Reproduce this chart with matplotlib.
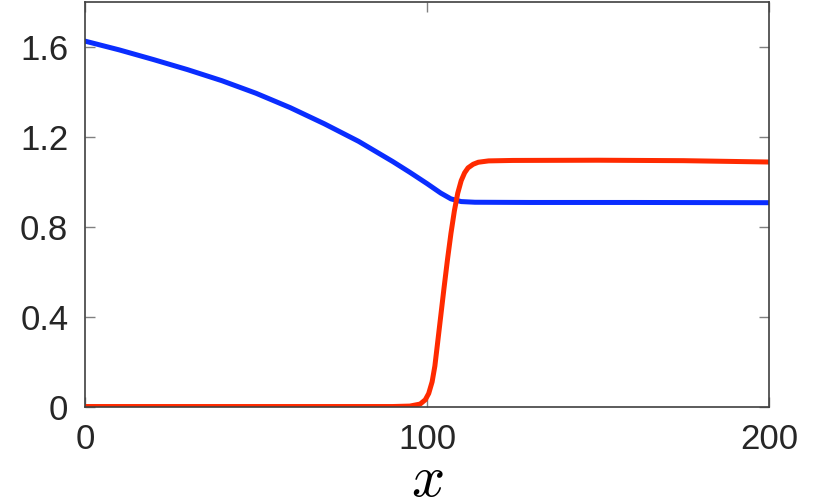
import numpy as np
import matplotlib
matplotlib.use("Agg")
from matplotlib import pyplot as plt

# values
x_blue = [0, 10, 20, 30, 40, 50, 60, 70, 80, 90, 95, 100, 104, 107, 110, 114, 130, 160, 200]
y_blue = [1.626, 1.587, 1.544, 1.499, 1.450, 1.394, 1.330, 1.258, 1.180, 1.090, 1.042, 0.992,
          0.950, 0.924, 0.912, 0.909, 0.908, 0.908, 0.907]

x_red = [0, 50, 90, 95, 98, 99.5, 100.5, 101.5, 102.3, 103, 104, 105, 106, 107, 108, 109, 110,
         111, 112, 113.5, 115, 118, 125, 150, 175, 200]
y_red = [0.0, 0.0, 0.0, 0.002, 0.011, 0.03, 0.058, 0.11, 0.18, 0.27, 0.40, 0.53, 0.655, 0.77,
         0.87, 0.95, 1.005, 1.04, 1.062, 1.078, 1.087, 1.093, 1.095, 1.096, 1.094, 1.088]

x_ticks = [0, 100, 200]
y_ticks = [0, 0.4, 0.8, 1.2, 1.6]
y_ticklabels = ['0', '0.4', '0.8', '1.2', '1.6']

plt.rcParams['font.family'] = ['Liberation Sans', 'DejaVu Sans']
plt.rcParams['mathtext.fontset'] = 'cm'

fig = plt.figure(figsize=(8.3, 5.03), dpi=100)
ax = fig.add_axes([0.1024, 0.1918, 0.8241, 0.8042])

ax.plot(x_blue, y_blue, color='#0a2dff', lw=3.6, solid_capstyle='round', solid_joinstyle='round')
ax.plot(x_red, y_red, color='#ff2a00', lw=3.6, solid_capstyle='round', solid_joinstyle='round')

ax.set_xlim(0, 200)
ax.set_ylim(0, 1.8)
ax.set_xticks(x_ticks)
ax.set_yticks(y_ticks)
ax.set_yticklabels(y_ticklabels)
ax.tick_params(direction='in', length=7, width=1, color='#808080',
               labelsize=25, labelcolor='#262626', top=True, right=True)
ax.tick_params(axis='x', pad=12)
ax.tick_params(axis='y', pad=12)
for s in ax.spines.values():
    s.set_color('#404040')
    s.set_linewidth(1.2)

# x label placed by hand, sits close to the bottom edge like the original
fig.text(0.515, 0.014, '$x$', fontsize=42, ha='center', va='baseline')

fig.savefig('out.png', dpi=100)
